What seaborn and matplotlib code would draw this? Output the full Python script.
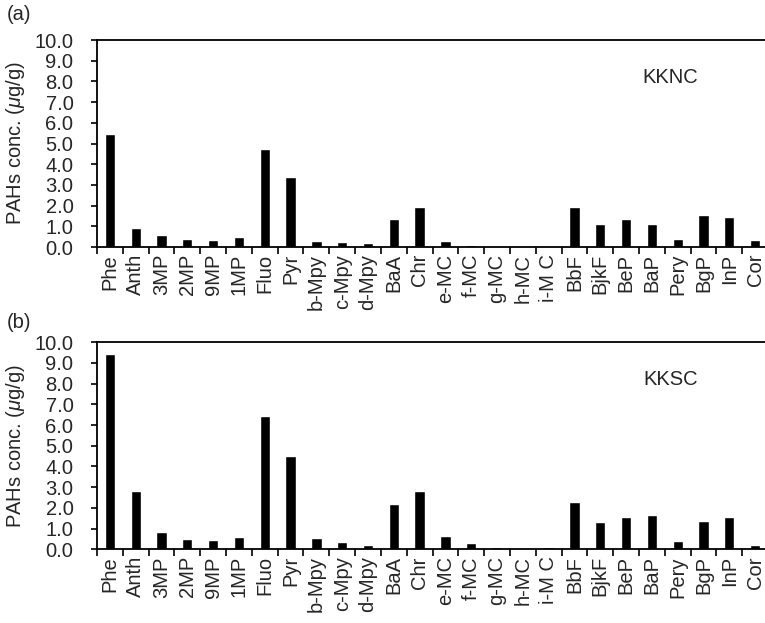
import matplotlib.pyplot as plt
import matplotlib.ticker as mticker
import numpy as np
import pandas as pd
import seaborn as sns

compounds = ["Phe", "Anth", "3MP", "2MP", "9MP", "1MP", "Fluo", "Pyr",
             "b-Mpy", "c-Mpy", "d-Mpy", "BaA", "Chr", "e-MC", "f-MC", "g-MC",
             "h-MC", "i-M C", "BbF", "BjkF", "BeP", "BaP", "Pery", "BgP", "InP", "Cor"]

kknc = [5.46, 0.92, 0.56, 0.37, 0.34, 0.47, 4.75, 3.37,
        0.29, 0.23, 0.18, 1.34, 1.92, 0.29, 0.10, 0.02,
        0.01, 0.03, 1.92, 1.11, 1.34, 1.09, 0.37, 1.56, 1.45, 0.34]

kksc = [9.45, 2.82, 0.85, 0.50, 0.45, 0.61, 6.46, 4.49,
        0.53, 0.34, 0.21, 2.19, 2.82, 0.66, 0.31, 0.10,
        0.06, 0.10, 2.27, 1.32, 1.56, 1.64, 0.39, 1.38, 1.56, 0.21]

sns.set_style("ticks")
plt.rcParams['font.family'] = ['Liberation Sans', 'DejaVu Sans']
plt.rcParams['mathtext.fontset'] = 'custom'
plt.rcParams['mathtext.it'] = 'Liberation Sans:italic'
plt.rcParams['mathtext.rm'] = 'Liberation Sans'
fs = 14.5

fig = plt.figure(figsize=(7.65, 6.23), dpi=100)
ax_a = fig.add_axes([97 / 765, 1 - 247 / 623, 671 / 765, 207 / 623])
ax_b = fig.add_axes([97 / 765, 1 - 549.3 / 623, 671 / 765, 207 / 623])

panels = [(ax_a, kknc, "KKNC", "(a)", 14), (ax_b, kksc, "KKSC", "(b)", 322)]
for ax, vals, name, tag, ty in panels:
    df = pd.DataFrame({"compound": compounds, "conc": vals})
    sns.barplot(data=df, x="compound", y="conc", color="black", width=0.4,
                saturation=1, ax=ax)
    ax.set_xlim(-0.5, len(compounds) - 0.5)
    ax.set_ylim(0, 10)
    ax.set_yticks(np.arange(0, 10.5, 1.0))
    ax.yaxis.set_major_formatter(mticker.FormatStrFormatter("%.1f"))
    ax.set_xticks(range(len(compounds)))
    ax.set_xticklabels(compounds, rotation=90)
    ax.xaxis.set_minor_locator(mticker.FixedLocator(np.arange(-0.5, len(compounds), 1.0)))
    ax.tick_params(axis="x", which="major", length=0, labelsize=fs, pad=5)
    ax.tick_params(axis="x", which="minor", length=5, width=1.2, color="black")
    ax.tick_params(axis="y", length=4, width=1.2, labelsize=fs, pad=13, color="black")
    for s in ["left", "bottom", "top"]:
        ax.spines[s].set_visible(True)
        ax.spines[s].set_linewidth(1.3)
        ax.spines[s].set_color("black")
    ax.spines["right"].set_visible(False)
    ax.set_xlabel("")
    ax.set_ylabel(r"PAHs conc. ($\mu$g/g)", fontsize=fs, labelpad=5)
    ax.text(0.855, 0.82, name, transform=ax.transAxes, fontsize=fs,
            ha="center", va="center")
    fig.text(7 / 765, 1 - ty / 623, tag, fontsize=fs, ha="left", va="center")

fig.savefig("out.png", dpi=100)
